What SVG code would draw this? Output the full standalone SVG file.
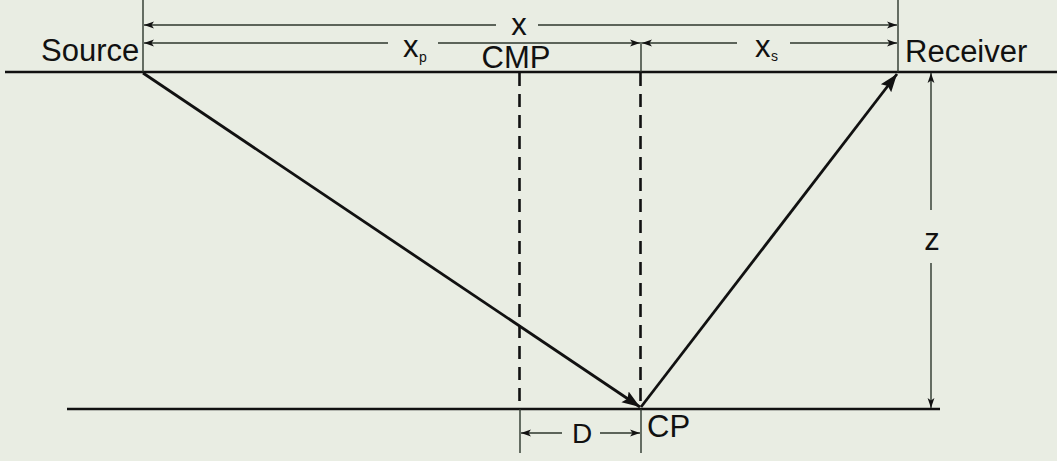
<svg xmlns="http://www.w3.org/2000/svg" width="1057" height="461" viewBox="0 0 1057 461">
<defs>
<style>
.bg{fill:#e9ede3}
.thick{stroke:#111;stroke-width:2.5;fill:none}
.thin{stroke:#2c362c;stroke-width:1.4;fill:none}
.dash{stroke:#111;stroke-width:2.6;stroke-dasharray:13 8;fill:none}
.ray{stroke:#111;stroke-width:2.8;fill:none}
.lbl{font-family:"Liberation Sans",Arial,sans-serif;font-size:31px;fill:#111}
.sub{font-family:"Liberation Sans",Arial,sans-serif;font-size:14px;fill:#111}
</style>
<marker id="dimE" markerWidth="11" markerHeight="8" refX="10" refY="4" orient="auto" markerUnits="userSpaceOnUse">
<path d="M0,0.6 L10,4 L0,7.4 L2.5,4 Z" fill="#111"/>
</marker>
<marker id="dimS" markerWidth="11" markerHeight="8" refX="1" refY="4" orient="auto" markerUnits="userSpaceOnUse">
<path d="M11,0.6 L1,4 L11,7.4 L8.5,4 Z" fill="#111"/>
</marker>
<marker id="rayE" markerWidth="20" markerHeight="16" refX="18" refY="8" orient="auto" markerUnits="userSpaceOnUse">
<path d="M0,1.5 L18,8 L0,14.5 L3,8 Z" fill="#111"/>
</marker>
</defs>
<rect class="bg" x="0" y="0" width="1057" height="461"/>

<g id="surface">
<line class="thick" x1="5" y1="72" x2="1057" y2="72"/>
</g>
<g id="reflector">
<line class="thick" x1="67" y1="409" x2="940" y2="409"/>
</g>

<g id="source">
<text class="lbl" x="41" y="61">Source</text>
</g>
<g id="receiver">
<text class="lbl" x="905" y="62">Receiver</text>
</g>
<g id="cmp">
<text class="lbl" x="516" y="68" text-anchor="middle">CMP</text>
</g>
<g id="cp">
<text class="lbl" x="647" y="437">CP</text>
</g>

<g id="connectors">
<line class="thin" x1="143" y1="0" x2="143" y2="72"/>
<line class="thin" x1="898" y1="0" x2="898" y2="72"/>
<line class="thin" x1="641" y1="42" x2="641" y2="72"/>
<line class="thin" x1="520" y1="409" x2="520" y2="453"/>
<line class="thin" x1="641" y1="409" x2="641" y2="453"/>
<line class="dash" x1="519.5" y1="73" x2="519.5" y2="408"/>
<line class="dash" x1="640.5" y1="73" x2="640.5" y2="408"/>
<line class="thin" x1="144" y1="25" x2="496" y2="25" marker-start="url(#dimS)"/>
<line class="thin" x1="538" y1="25" x2="897" y2="25" marker-end="url(#dimE)"/>
<line class="thin" x1="144" y1="43" x2="388" y2="43" marker-start="url(#dimS)"/>
<line class="thin" x1="438" y1="43" x2="640" y2="43" marker-end="url(#dimE)"/>
<line class="thin" x1="642" y1="43" x2="737" y2="43" marker-start="url(#dimS)"/>
<line class="thin" x1="790" y1="43" x2="897" y2="43" marker-end="url(#dimE)"/>
<line class="thin" x1="521" y1="433" x2="562" y2="433" marker-start="url(#dimS)"/>
<line class="thin" x1="600" y1="433" x2="640" y2="433" marker-end="url(#dimE)"/>
<line class="thin" x1="931" y1="73" x2="931" y2="210" marker-start="url(#dimS)"/>
<line class="thin" x1="931" y1="263" x2="931" y2="408" marker-end="url(#dimE)"/>
<line class="ray" x1="143" y1="73" x2="640" y2="407" marker-end="url(#rayE)"/>
<line class="ray" x1="641" y1="407" x2="897" y2="74" marker-end="url(#rayE)"/>
</g>

<g id="labels">
<text class="lbl" x="519" y="35" text-anchor="middle">x</text>
<text class="lbl" x="403" y="57">x</text><text class="sub" x="419" y="62">p</text>
<text class="lbl" x="755" y="57">x</text><text class="sub" x="771" y="61">s</text>
<text class="lbl" x="582" y="443" text-anchor="middle" style="font-size:28px">D</text>
<text class="lbl" x="932" y="250" text-anchor="middle">z</text>
</g>
</svg>
